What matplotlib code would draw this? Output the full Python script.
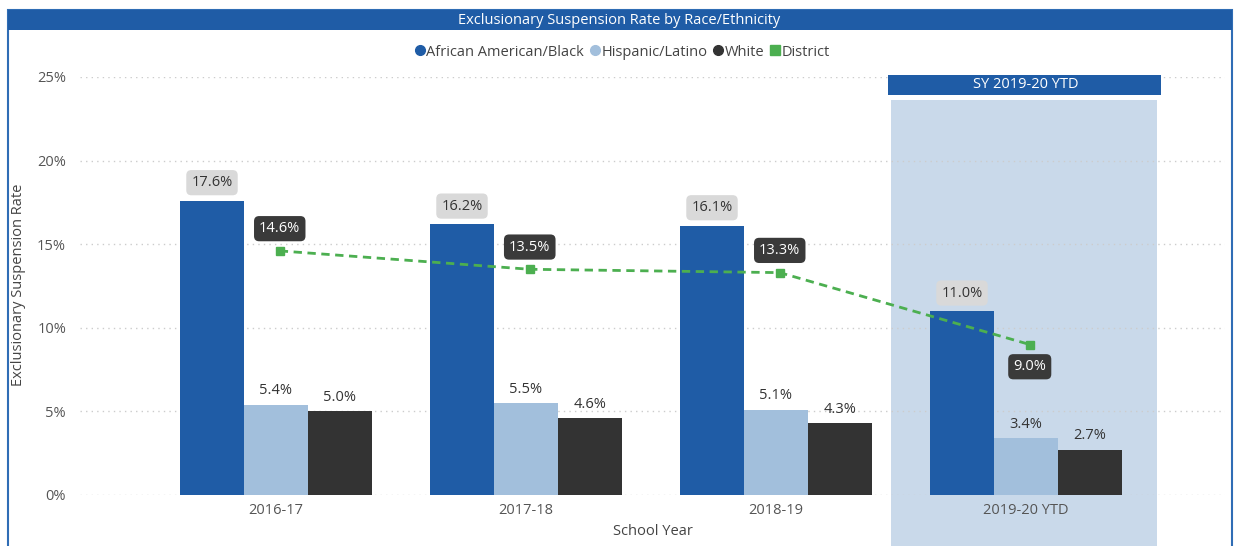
import matplotlib
matplotlib.use("Agg")
import matplotlib.pyplot as plt
from matplotlib.patches import Rectangle
from matplotlib.lines import Line2D
import numpy as np

plt.rcParams['font.family'] = ['Open Sans', 'DejaVu Sans']

years = ["2016-17", "2017-18", "2018-19", "2019-20 YTD"]
black_rate = [17.6, 16.2, 16.1, 11.0]
hispanic_rate = [5.4, 5.5, 5.1, 3.4]
white_rate = [5.0, 4.6, 4.3, 2.7]
district_rate = [14.6, 13.5, 13.3, 9.0]
yticks = [0, 5, 10, 15, 20, 25]
series_names = ["African American/Black", "Hispanic/Latino", "White", "District"]

C_BLUE = "#1f5ca6"
C_LIGHT = "#a2bfdc"
C_BLACK = "#333333"
C_GREEN = "#4caf50"
C_HL = "#c9d9ea"

W, H = 1238, 546
fig = plt.figure(figsize=(W / 100, H / 100), dpi=100)

def fx(px):
    return px / W

def fy(py):
    return 1 - py / H

# card border and title bar
fig.patches.append(Rectangle((fx(8), fy(560)), fx(1232) - fx(8), fy(10) - fy(560),
                             transform=fig.transFigure, fill=False,
                             edgecolor="#2f6db5", linewidth=1.5, clip_on=False))
fig.patches.append(Rectangle((fx(8), fy(30)), fx(1232) - fx(8), fy(10) - fy(30),
                             transform=fig.transFigure, facecolor=C_BLUE,
                             edgecolor="none"))
fig.text(0.5, fy(20), "Exclusionary Suspension Rate by Race/Ethnicity",
         ha="center", va="center", color="white", fontsize=10.5)

ax = fig.add_axes([fx(80), fy(495), fx(1225) - fx(80), fy(77) - fy(495)])
x = np.arange(len(years))
bw = 0.256

# highlight for YTD
ax.axvspan(2.46, 3.525, ymin=-0.125, ymax=0.945, color=C_HL, clip_on=False, zorder=0, lw=0)
ax.add_patch(Rectangle((2.448, 0.957), 3.54 - 2.448, 0.048,
                       transform=ax.get_xaxis_transform(), facecolor=C_BLUE,
                       edgecolor="none", clip_on=False, zorder=1))
ax.text(3.0, 0.981, "SY 2019-20 YTD", transform=ax.get_xaxis_transform(),
        ha="center", va="center", color="white", fontsize=10.5, zorder=2)

ax.bar(x - bw, black_rate, bw, color=C_BLUE, zorder=3)
ax.bar(x, hispanic_rate, bw, color=C_LIGHT, zorder=3)
ax.bar(x + bw, white_rate, bw, color=C_BLACK, zorder=3)

ax.plot(x + 0.015, district_rate, color=C_GREEN, ls=(0, (3, 2)), lw=2,
        marker="s", ms=6, zorder=4)

for i in range(len(years)):
    ax.annotate(f"{black_rate[i]:.1f}%", (x[i] - bw, black_rate[i]),
                xytext=(0, 13), textcoords="offset points", ha="center", va="center",
                fontsize=10.5, color="#333333", zorder=6,
                bbox=dict(boxstyle="round,pad=0.35", fc="#d9d9d9", ec="none"))
    ax.annotate(f"{hispanic_rate[i]:.1f}%", (x[i], hispanic_rate[i]),
                xytext=(0, 10), textcoords="offset points", ha="center", va="center",
                fontsize=10.5, color="#333333", zorder=6)
    ax.annotate(f"{white_rate[i]:.1f}%", (x[i] + bw, white_rate[i]),
                xytext=(0, 10), textcoords="offset points", ha="center", va="center",
                fontsize=10.5, color="#333333", zorder=6)
    dy = 16 if i < 3 else -16
    ax.annotate(f"{district_rate[i]:.1f}%", (x[i] + 0.015, district_rate[i]),
                xytext=(0, dy), textcoords="offset points", ha="center", va="center",
                fontsize=10.5, color="white", zorder=7,
                bbox=dict(boxstyle="round,pad=0.35", fc="#3a3a3a", ec="none"))

ax.set_xlim(-0.784, 3.796)
ax.set_ylim(0, 25)
ax.set_yticks(yticks)
ax.set_yticklabels([f"{v}%" for v in yticks])
ax.set_xticks(x)
ax.set_xticklabels(years)
ax.tick_params(length=0, labelsize=10.5, colors="#555555", pad=6)
ax.tick_params(axis="y", pad=10)
for s in ax.spines.values():
    s.set_visible(False)
ax.set_facecolor("none")
ax.yaxis.grid(True, color="#cccccc", ls=(0, (1, 3)), lw=1, zorder=0)
ax.set_axisbelow(True)
ax.set_xlabel("School Year", fontsize=10.5, color="#444444", labelpad=4)
fig.text(fx(19), fy(285), "Exclusionary Suspension Rate", rotation=90,
         ha="center", va="center", fontsize=10.5, color="#444444")

handles = [
    Line2D([], [], ls="none", marker="o", ms=7, color=C_BLUE),
    Line2D([], [], ls="none", marker="o", ms=7, color=C_LIGHT),
    Line2D([], [], ls="none", marker="o", ms=7, color=C_BLACK),
    Line2D([], [], ls="none", marker="s", ms=7, color=C_GREEN),
]
fig.legend(handles, series_names, loc="center", bbox_to_anchor=(fx(622), fy(52)),
           ncol=4, frameon=False, fontsize=10.5, handletextpad=0.05,
           columnspacing=0.35, handlelength=0.8, labelcolor="#444444")

fig.savefig("out.png", dpi=100)
